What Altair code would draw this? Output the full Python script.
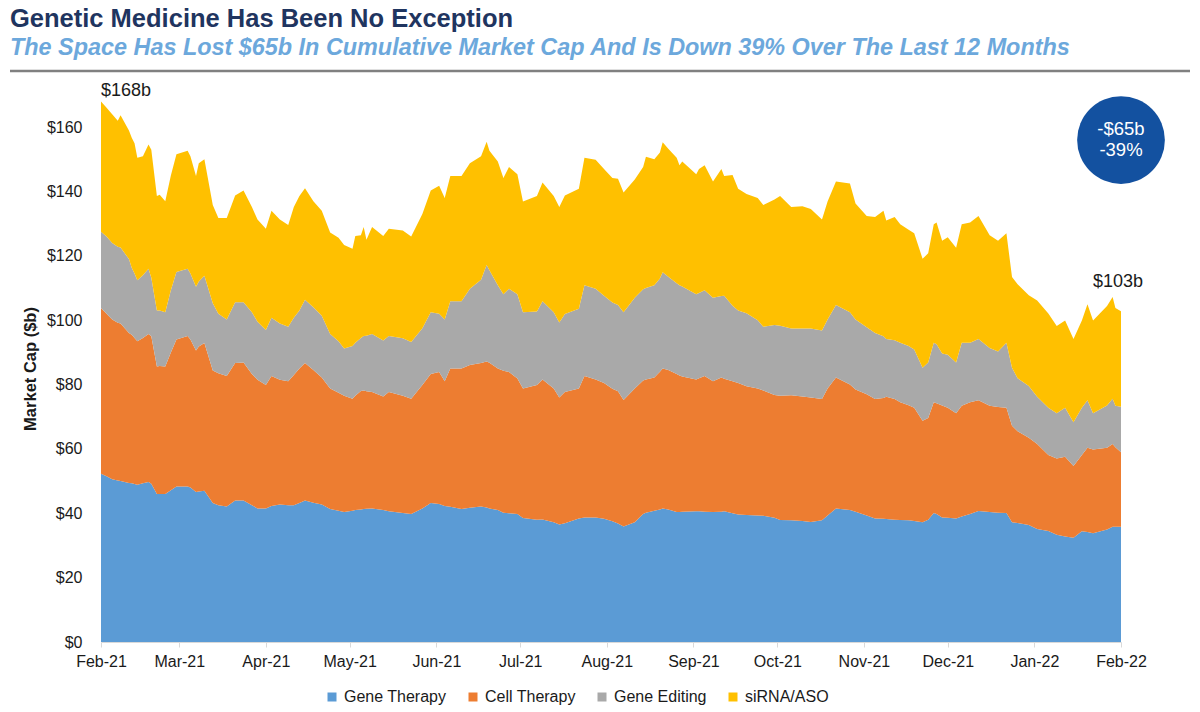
import altair as alt
import pandas as pd
import numpy as np

# ---- data (values in $b) ----
# day offsets from 2021-02-01
days = [0, 2, 4, 6, 7, 10, 11, 12, 13, 15, 17, 18, 20, 21, 23, 25, 27, 31, 32, 34,
        35, 37, 40, 42, 45, 48, 51, 54, 56, 59, 61, 64, 67, 69, 71, 73, 76, 79, 82, 85,
        87, 90, 91, 93, 94, 95, 97, 101, 103, 108, 111, 115, 118, 121, 123, 125, 129, 132, 136, 138,
        139, 142, 144, 146, 149, 151, 156, 158, 162, 164, 166, 171, 173, 177, 180, 183, 185, 187, 191, 194,
        195, 198, 200, 201, 203, 206, 207, 208, 213, 214, 216, 219, 222, 223, 226, 228, 231, 235, 237, 241,
        243, 247, 251, 254, 258, 260, 263, 268, 270, 274, 277, 280, 281, 284, 286, 289, 291, 294, 296, 298,
        299, 301, 303, 306, 308, 311, 314, 318, 321, 324, 326, 328, 332, 335, 339, 342, 345, 348, 351, 353,
        355, 360, 362, 363, 365]

# total market cap (top of stack)
total_cap = [168, 166, 164, 162, 163.7, 159, 156.7, 155, 150.5, 151, 154.6, 153, 138.6, 139, 137, 145, 151.6, 152.7, 151, 144.8,
             148.8, 150, 135.8, 131.8, 131.8, 138.8, 140.3, 135.2, 131.3, 128.4, 134, 131.3, 129.6, 135.2, 138.6, 141, 137, 134, 127.3, 125.6,
             123.4, 122.2, 126.2, 126.4, 129, 125, 129, 126.2, 128.4, 127.9, 126, 133, 140.3, 141.8, 138, 144.8, 144.8, 148.8, 151, 155.5,
             152.7, 149.3, 144.2, 147.6, 145.4, 136.9, 138.6, 142.8, 138.6, 135.2, 138.8, 140.9, 150.5, 149.9, 147, 144.2, 144, 139.7, 143.7, 147.6,
             150.8, 150, 152.1, 155.3, 153.3, 150.5, 148.2, 149.3, 145.4, 147, 148.2, 143.1, 147, 144.8, 145.1, 140.9, 139.2, 138, 135.8, 137.5,
             138.6, 135.2, 135.4, 134.6, 131.3, 136.9, 143.1, 142.5, 136.3, 132.4, 132.1, 134, 131, 132.1, 129.8, 128.1, 127, 119.1, 120.8, 129.8,
             130.4, 124.7, 125.8, 122.5, 129.8, 130.4, 132.4, 126.4, 124.7, 127, 113.4, 111.2, 107.8, 106.1, 102.1, 98.2, 99.9, 94.2, 99.9, 105,
             99.9, 104.4, 107.2, 103.8, 102.8]

# cumulative through Gene Editing (top of grey band)
cum_gene_editing = [127.5, 126, 124, 122.8, 122.6, 119, 116.3, 114.5, 112.4, 114, 116, 113.2, 103, 103, 102.5, 109.3, 115, 116, 114.5, 110.4,
                    112, 113.8, 105.3, 102, 100.2, 105.6, 105.6, 102.5, 99.5, 97, 100.8, 99, 98, 100.8, 103, 106.4, 104, 101.4, 95.7, 93.5,
                    91.2, 92, 93, 94.5, 95.1, 95.2, 95.7, 93.7, 95.1, 94.4, 93.2, 97.5, 102.5, 102, 100.2, 105.9, 105.9, 109.8, 112.6, 117.2,
                    115.5, 110.9, 108.1, 109.8, 108.1, 102.5, 102.7, 105.9, 102.5, 99.3, 101.9, 103.6, 110.9, 109.8, 107.6, 105.5, 104.7, 102.5, 107, 109.6,
                    110, 110.9, 113, 114.9, 113.5, 111.5, 110.9, 110.5, 108.1, 108.5, 109.3, 107, 107.5, 107.6, 104.5, 103, 102.2, 100, 98, 98.5,
                    98.3, 97.4, 97.4, 97.4, 96.8, 100.2, 104.7, 102.5, 100.2, 97.8, 96, 95, 94.2, 93.8, 93, 92, 90.9, 85.2, 86.9, 93,
                    92.5, 89.7, 89.3, 86.9, 93, 93, 94.2, 91.4, 90.3, 93, 85.2, 82, 79.6, 76.2, 72.8, 71.1, 72.8, 68.3, 72.8, 75.1,
                    71.1, 73.5, 75.6, 73.4, 73.1]

# cumulative through Cell Therapy (top of orange band)
cum_cell_therapy = [103.8, 102, 100.2, 99.2, 99, 96, 95.5, 94.5, 93.5, 94.5, 95.7, 95, 85.6, 85.8, 85.6, 90, 94, 95.1, 94, 90.6,
                    91.8, 92.9, 84.4, 83.5, 82.7, 86.7, 86.9, 83.3, 81.5, 79.9, 82.7, 81.5, 81, 83, 85, 86.7, 84.5, 82.2, 78.8, 77.5,
                    76.5, 75.6, 76.5, 78, 78.2, 77.9, 77.7, 76.3, 77.7, 76.5, 75.6, 79.9, 83.3, 83.9, 81, 85, 85, 86.1, 86.7, 87.2,
                    86.8, 85, 84.3, 83.9, 81.9, 78.8, 79.9, 81.6, 78.8, 76, 77.7, 78.8, 82.7, 81.6, 80.5, 78.7, 77.9, 75.2, 78.8, 81.3,
                    81.6, 82.2, 84, 85, 84.5, 83.3, 82.8, 82.5, 81.6, 82, 82.7, 81, 82.2, 81.8, 81, 80.5, 79.5, 78.8, 78.2, 76.8,
                    76.5, 76.7, 76.3, 76, 75.5, 78.8, 82.2, 80, 78.5, 77, 75.5, 75.8, 76.2, 75.5, 74.5, 73.6, 72.8, 68.8, 69.6, 74.5,
                    74.2, 73.5, 72.8, 71.1, 73.4, 74.5, 75.1, 73.4, 73, 72.8, 67.2, 65.5, 63.5, 61.5, 58.1, 57, 57.6, 54.7, 58.1, 60.4,
                    59.8, 60.4, 61.5, 60.5, 59]

# Gene Therapy (bottom band)
gene_therapy = [52.3, 51.5, 50.6, 50.2, 50, 49.4, 49.3, 49.1, 48.9, 49.3, 49.7, 49.2, 46, 46, 46, 47.2, 48.3, 48.3, 48, 46.6,
                46.8, 47, 43.2, 42.5, 42.1, 44, 44, 42.5, 41.5, 41.5, 42.3, 42.7, 42.5, 42.5, 43.2, 44, 43.3, 42.7, 41.3, 40.8,
                40.4, 40.8, 41, 41.2, 41.3, 41.4, 41.5, 41, 40.6, 40.1, 39.8, 41.5, 43.2, 42.9, 42.3, 42, 41.3, 41.7, 42.1, 41.8,
                41.5, 41, 40.2, 40, 39.8, 38.5, 38, 38.1, 37.2, 36.5, 36.9, 38.4, 38.7, 38.7, 38.3, 37.5, 36.8, 35.9, 37.2, 39.8,
                40.2, 40.8, 41.2, 41.5, 41.2, 40.4, 40.4, 40.5, 40.6, 40.6, 40.5, 40.4, 40.5, 40.6, 40, 39.6, 39.5, 39.3, 39.2, 38.6,
                37.9, 37.8, 37.6, 37.3, 37.8, 39.3, 41.5, 41, 40.5, 39.3, 38.4, 38.3, 38.2, 38, 37.9, 37.8, 37.6, 37.2, 38, 40.1,
                39.8, 38.7, 38.6, 38.4, 39, 39.8, 40.7, 40.4, 40.2, 40.1, 37.2, 37, 36.4, 35.1, 34.5, 33.3, 32.8, 32.4, 34.4, 34.2,
                33.8, 35, 35.8, 35.8, 35.8]

series_names = ["Gene Therapy", "Cell Therapy", "Gene Editing", "siRNA/ASO"]
series_colors = ["#5B9BD5", "#ED7D31", "#A9A9A9", "#FFC000"]
y_ticks = [0, 20, 40, 60, 80, 100, 120, 140, 160]

start_label = "$168b"
end_label = "$103b"
title_text = "Genetic Medicine Has Been No Exception"
subtitle_text = "The Space Has Lost $65b In Cumulative Market Cap And Is Down 39% Over The Last 12 Months"
badge_lines = ["-$65b", "-39%"]

# ---- build long table ----
gt = np.array(gene_therapy, dtype=float)
ct = np.array(cum_cell_therapy, dtype=float) - gt
ge = np.array(cum_gene_editing, dtype=float) - np.array(cum_cell_therapy, dtype=float)
si = np.array(total_cap, dtype=float) - np.array(cum_gene_editing, dtype=float)

dates = pd.Timestamp("2021-02-01") + pd.to_timedelta(days, unit="D")
date_str = [d.strftime("%Y-%m-%dT%H:%M:%S") for d in dates]

rows = []
for i, ds in enumerate(date_str):
    for k, vals in enumerate([gt, ct, ge, si]):
        rows.append({"date": ds, "series": series_names[k], "value": round(float(vals[i]), 2), "ord": k})
df = pd.DataFrame(rows)

FONT = "Liberation Sans"
TXT = "#1a1a1a"

month_ticks = []
for m in range(13):
    yy = 2021 + (1 + m) // 12
    mm = (1 + m) % 12 + 1
    month_ticks.append(alt.DateTime(year=yy, month=mm, date=1))

x_enc = alt.X(
    "date:T",
    title=None,
    scale=alt.Scale(domain=[alt.DateTime(year=2021, month=2, date=1),
                            alt.DateTime(year=2022, month=2, date=1)]),
    axis=alt.Axis(values=month_ticks, format="%b-%y", labelFontSize=16, labelFont=FONT,
                  labelColor=TXT, domainColor="#D9D9D9", tickColor="#D9D9D9",
                  tickSize=5, labelPadding=6, grid=False, labelFlush=False),
)

area = alt.Chart(df).mark_area(interpolate="linear").encode(
    x=x_enc,
    y=alt.Y("value:Q", stack="zero",
            scale=alt.Scale(domain=[0, 170], nice=False),
            axis=alt.Axis(values=y_ticks, labelExpr="'$' + datum.value", labelFontSize=16,
                          labelFont=FONT, labelColor=TXT, domain=False, ticks=False,
                          grid=False, labelPadding=19, title="Market Cap ($b)",
                          titleFont=FONT, titleFontSize=16.5, titleFontWeight="bold",
                          titleColor=TXT, titlePadding=8)),
    color=alt.Color("series:N", scale=alt.Scale(domain=series_names, range=series_colors),
                    legend=alt.Legend(title=None, orient="none", legendX=223, legendY=594,
                                      direction="horizontal", symbolType="square",
                                      symbolSize=81, symbolStrokeWidth=0, labelFontSize=16,
                                      labelFont=FONT, labelColor=TXT, columnPadding=18,
                                      labelOffset=4)),
    order=alt.Order("ord:Q", sort="ascending"),
)

ann_df = pd.DataFrame({"date": [date_str[0], date_str[-1]],
                       "value": [total_cap[0], total_cap[-1]],
                       "label": [start_label, end_label]})

start_txt = alt.Chart(ann_df.iloc[[0]]).mark_text(
    align="left", baseline="bottom", dy=-1, fontSize=18, font=FONT, color=TXT
).encode(x="date:T", y="value:Q", text="label:N")

end_txt = alt.Chart(ann_df.iloc[[1]]).mark_text(
    align="center", baseline="bottom", dx=-3, dy=-20, fontSize=18, font=FONT, color=TXT
).encode(x="date:T", y="value:Q", text="label:N")

badge = alt.Chart(pd.DataFrame({"k": [0]})).mark_circle(
    size=7700, color="#1351A0", opacity=1
).encode(x=alt.value(1020), y=alt.value(45))

badge_txt1 = alt.Chart(pd.DataFrame({"t": [badge_lines[0]]})).mark_text(
    fontSize=18.5, font=FONT, color="white", baseline="middle", align="center"
).encode(x=alt.value(1020), y=alt.value(34), text="t:N")

badge_txt2 = alt.Chart(pd.DataFrame({"t": [badge_lines[1]]})).mark_text(
    fontSize=18.5, font=FONT, color="white", baseline="middle", align="center"
).encode(x=alt.value(1020), y=alt.value(55), text="t:N")

title_mark = alt.Chart(pd.DataFrame({"t": [title_text]})).mark_text(
    fontSize=25.5, font=FONT, fontWeight="bold", color="#1F3560", align="left", baseline="alphabetic"
).encode(x=alt.value(-91), y=alt.value(-68), text="t:N")

subtitle_mark = alt.Chart(pd.DataFrame({"t": [subtitle_text]})).mark_text(
    fontSize=23.4, font=FONT, fontWeight="bold", fontStyle="italic", color="#6CA8DC",
    align="left", baseline="alphabetic"
).encode(x=alt.value(-91), y=alt.value(-40), text="t:N")

rule = alt.Chart(pd.DataFrame({"k": [0]})).mark_rule(color="#808080", strokeWidth=2.5).encode(
    x=alt.value(-91), x2=alt.value(1089), y=alt.value(-24))

chart = alt.layer(
    area, start_txt, end_txt, badge, badge_txt1, badge_txt2, title_mark, subtitle_mark, rule
).properties(
    width=1020, height=547,
    autosize=alt.AutoSizeParams(type="none"),
    padding={"left": 93, "top": 87, "right": 71, "bottom": 66},
).configure_view(stroke=None)

chart.save("out.html", embed_options={"renderer": "svg", "actions": False})
